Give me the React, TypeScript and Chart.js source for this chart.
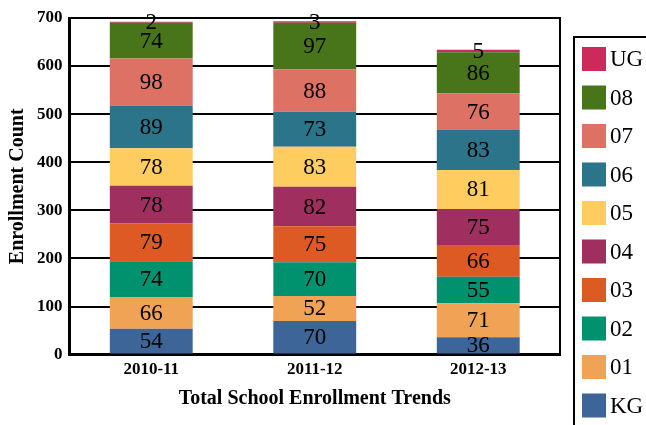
import React, { useEffect, useRef } from "react";
import { Chart, registerables } from "chart.js";

Chart.register(...registerables);

const categories = ["2010-11", "2011-12", "2012-13"];
const seriesNames = ["KG", "01", "02", "03", "04", "05", "06", "07", "08", "UG"];
const kg = [54, 70, 36];
const g01 = [66, 52, 71];
const g02 = [74, 70, 55];
const g03 = [79, 75, 66];
const g04 = [78, 82, 75];
const g05 = [78, 83, 81];
const g06 = [89, 73, 83];
const g07 = [98, 88, 76];
const g08 = [74, 97, 86];
const ug = [2, 3, 5];
const seriesValues = [kg, g01, g02, g03, g04, g05, g06, g07, g08, ug];
const seriesColors = [
  "#3D6597",
  "#F1A355",
  "#00926E",
  "#DD5A23",
  "#9E2F5E",
  "#FECC5F",
  "#2B7489",
  "#DD7164",
  "#48741A",
  "#CB2A5B",
];
const yTicks = [0, 100, 200, 300, 400, 500, 600, 700];

const SERIF = '"Liberation Serif", "Times New Roman", serif';

const labelPlugin = {
  id: "segLabels",
  afterDatasetsDraw(chart: any) {
    const ctx = chart.ctx;
    ctx.save();
    ctx.font = `23px ${SERIF}`;
    ctx.fillStyle = "#000";
    ctx.textAlign = "center";
    ctx.textBaseline = "middle";
    chart.data.datasets.forEach((ds: any, di: number) => {
      const meta = chart.getDatasetMeta(di);
      meta.data.forEach((el: any, i: number) => {
        const v = ds.data[i];
        const y = (el.y + el.base) / 2;
        ctx.fillText(String(v), el.x, y + 1);
      });
    });
    ctx.restore();
  },
};

const framePlugin = {
  id: "frame",
  afterDraw(chart: any) {
    const ctx = chart.ctx;
    const a = chart.chartArea;
    ctx.save();
    ctx.strokeStyle = "#000";
    ctx.lineWidth = 2;
    ctx.beginPath();
    ctx.moveTo(a.right, a.top - 1);
    ctx.lineTo(a.right, a.bottom);
    ctx.stroke();
    // legend
    const left = a.right + 14;
    const top = a.top + 19;
    ctx.lineWidth = 2;
    ctx.beginPath();
    ctx.moveTo(left, chart.height + 5);
    ctx.lineTo(left, top);
    ctx.lineTo(chart.width + 5, top);
    ctx.stroke();
    const dsets = chart.data.datasets.slice().reverse();
    ctx.font = `23px ${SERIF}`;
    ctx.textAlign = "left";
    ctx.textBaseline = "middle";
    dsets.forEach((ds: any, i: number) => {
      const sy = top + 10 + i * 38.5;
      ctx.fillStyle = ds.backgroundColor;
      ctx.fillRect(left + 8, sy, 24, 24);
      ctx.fillStyle = "#000";
      ctx.fillText(ds.label, left + 36, sy + 13);
    });
    ctx.restore();
  },
};

export default function App() {
  const ref = useRef<HTMLCanvasElement | null>(null);
  useEffect(() => {
    if (!ref.current) return;
    const chart = new Chart(ref.current, {
      type: "bar",
      data: {
        labels: categories,
        datasets: seriesNames.map((name, i) => ({
          label: name,
          data: seriesValues[i],
          backgroundColor: seriesColors[i],
          borderWidth: 0,
          categoryPercentage: 1,
          barPercentage: 0.507,
        })),
      },
      options: {
        animation: false,
        responsive: false,
        maintainAspectRatio: false,
        layout: { padding: { left: 4, right: 86, top: 18, bottom: 14 } },
        plugins: {
          legend: { display: false },
          tooltip: { enabled: false },
        },
        scales: {
          x: {
            stacked: true,
            grid: { display: false, drawTicks: false },
            border: { display: true, color: "#000", width: 3 },
            ticks: {
              color: "#000",
              font: { family: SERIF, size: 17, weight: "bold" },
              padding: 5,
            },
            title: {
              display: true,
              text: "Total School Enrollment Trends",
              color: "#000",
              font: { family: SERIF, size: 20, weight: "bold" },
              padding: { top: 2, bottom: 0 },
            },
          },
          y: {
            stacked: true,
            min: 0,
            max: 700,
            afterBuildTicks(axis: any) {
              axis.ticks = yTicks.map((v) => ({ value: v }));
            },
            grid: { color: "#000", lineWidth: 2, drawTicks: false },
            border: { display: true, color: "#000", width: 3 },
            ticks: {
              color: "#000",
              font: { family: SERIF, size: 17, weight: "bold" },
              padding: 7,
            },
            title: {
              display: true,
              text: "Enrollment Count",
              color: "#000",
              font: { family: SERIF, size: 20, weight: "bold" },
              padding: { top: 2, bottom: 0 },
            },
          },
        },
      },
      plugins: [labelPlugin, framePlugin],
    });
    return () => chart.destroy();
  }, []);
  return (
    <div style={{ position: "fixed", left: 0, top: 0, width: 646, height: 425, background: "#fff" }}>
      <canvas ref={ref} width={646} height={425} style={{ width: 646, height: 425, display: "block" }} />
    </div>
  );
}
